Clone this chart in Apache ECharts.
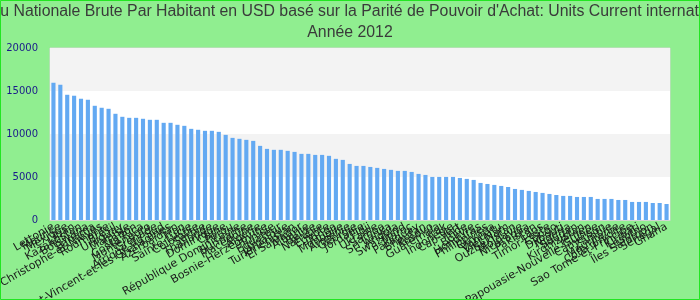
<!DOCTYPE html>
<html>
<head>
<meta charset="utf-8">
<script src="https://cdn.jsdelivr.net/npm/echarts@6/dist/echarts.min.js"></script>
<style>html,body{margin:0;padding:0;background:#90ee90;}#c{width:700px;height:300px;}</style>
</head>
<body>
<div id="c"></div>
<script>
const titleLine1 = "Revenu Nationale Brute Par Habitant en USD basé sur la Parité de Pouvoir d'Achat: Units Current international $";
const titleLine2 = "Année 2012";
const categories = [
"Lettonie","Maurice","Mexique","Liban","Kazakhstan","Botswana","Panama","Saint-Christophe-et-Niévès","Roumanie","Brésil",
"Uruguay","Malaisie","Gabon","Costa Rica","Monténégro","Grenade","Afrique du Sud","Saint-Vincent-et-les Grenadines","Azerbaïdjan","Iran",
"Sainte-Lucie","Colombie","Serbie","Thaïlande","Dominique","Chine","Pérou","République Dominicaine","Suriname","Macédoine",
"Algérie","Bosnie-Herzégovine","Tunisie","Équateur","Jamaïque","Turkménistan","El Salvador","Albanie","Belize","Namibie",
"Égypte","Tonga","Mongolie","Arménie","Géorgie","Jordanie","Fidji","Ukraine","Samoa","Sri Lanka",
"Angola","Swaziland","Maroc","Paraguay","Bhoutan","Kosovo","Guatemala","Irak","Indonésie","Cap-Vert",
"Inde","Bolivie","Honduras","Philippines","Guyana","Vanuatu","Viet Nam","Ouzbékistan","Moldavie","Nicaragua",
"Pakistan","Laos","Timor-Leste","Congo","Djibouti","Nigeria","Soudan","Kirghizistan","Yémen","Papouasie-Nouvelle-Guinée",
"Cameroun","Zambie","Mauritanie","Côte d'Ivoire","Sao Tomé-et-Principe","Kiribati","Lesotho","Îles Salomon","Sénégal","Ghana"
];
const values = [
15960,15730,14560,14450,14100,13980,13280,13050,12930,12350,
12000,11880,11880,11770,11650,11650,11300,11300,11070,10950,
10600,10490,10370,10370,10250,9900,9550,9440,9320,9200,
8620,8270,8160,8160,8040,7920,7690,7690,7570,7570,
7460,7110,6990,6520,6290,6290,6170,6060,5940,5830,
5710,5710,5590,5360,5240,5010,5010,5010,5010,4890,
4780,4660,4310,4190,4080,3960,3840,3610,3500,3380,
3260,3150,3030,2910,2800,2800,2680,2680,2680,2450,
2450,2450,2330,2330,2100,2100,2100,1980,1980,1860
];
const yTicks = {min: 0, max: 20000, interval: 5000};

const chart = echarts.init(document.getElementById('c'), null, {renderer: 'canvas'});
chart.setOption({
  backgroundColor: '#90ee90',
  animation: false,
  graphic: [
    {
      type: 'text', silent: true, x: 350, y: 12, scaleX: 0.99,
      style: {text: titleLine1, align: 'center', verticalAlign: 'middle', font: '16px "Liberation Sans"', fill: '#3a3a3a'}
    },
    {
      type: 'text', silent: true, x: 350, y: 33, scaleX: 0.99,
      style: {text: titleLine2, align: 'center', verticalAlign: 'middle', font: '16px "Liberation Sans"', fill: '#3a3a3a'}
    },
    {
      type: 'rect', silent: true, z: 100,
      shape: {x: 0.5, y: 0.5, width: 699, height: 299},
      style: {fill: 'none', stroke: '#22e622', lineWidth: 1}
    }
  ],
  grid: {left: 50, right: 30, top: 48, bottom: 80, show: true, borderColor: '#d4d4d4', borderWidth: 1, backgroundColor: 'transparent', containLabel: false, outerBoundsMode: 'none'},
  xAxis: {
    type: 'category',
    data: categories,
    axisLine: {show: true, lineStyle: {color: '#d4d4d4'}},
    axisTick: {show: false},
    axisLabel: {interval: 0, rotate: 30, fontFamily: 'DejaVu Sans', fontSize: 11, color: '#1a1a1a', margin: 6, hideOverlap: false}
  },
  yAxis: {
    type: 'value',
    min: yTicks.min, max: yTicks.max, interval: yTicks.interval,
    axisLine: {show: false},
    axisTick: {show: false},
    splitLine: {show: false},
    splitArea: {show: true, areaStyle: {color: ['#ffffff', '#f3f3f3']}},
    axisLabel: {fontFamily: 'DejaVu Sans', fontSize: 10, color: '#1a1a8a', margin: 12, formatter: function (v) { return String(v); }}
  },
  series: [{
    type: 'bar',
    data: values,
    barCategoryGap: '40%',
    itemStyle: {color: '#63a9f2'}
  }]
});
</script>
</body>
</html>
